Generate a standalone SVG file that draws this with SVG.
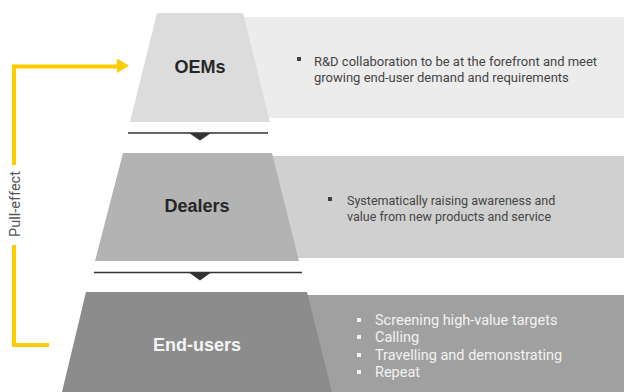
<svg xmlns="http://www.w3.org/2000/svg" width="624" height="392" viewBox="0 0 624 392">
<style>
.title{font-family:"Liberation Sans",Arial,sans-serif;font-weight:bold;font-size:18px;text-anchor:middle}
.desc{font-family:Roboto,"Liberation Sans",sans-serif;fill:#454545}
.desc2{font-family:Roboto,"Liberation Sans",sans-serif;font-size:14.5px;fill:#f2f2f2}
.sep{stroke:#333;stroke-width:1.5;fill:none}
.tri{fill:#333}
.pull{stroke:#FFCC00;stroke-width:4;fill:none}
</style>
<defs>
<marker id="ah" markerWidth="4" markerHeight="4" refX="0" refY="2" orient="auto" markerUnits="strokeWidth" viewBox="0 0 4 4">
<path d="M0,0 L3,1.8 L0,3.6 Z" fill="#FFCC00"/>
</marker>
</defs>
<rect width="624" height="392" fill="#fff"/>
<g id="oems">
<rect x="240" y="17" width="384" height="101" fill="#ececec"/>
<polygon points="157,13 243,13 270,122 130,122" fill="#dcdcdc"/>
<text class="title" x="200" y="73" fill="#262626">OEMs</text>
<rect x="297" y="57" width="4" height="4" fill="#404040"/>
<text class="desc" font-size="13" x="314" y="66">R&amp;D collaboration to be at the forefront and meet</text>
<text class="desc" font-size="13" x="314" y="82">growing end-user demand and requirements</text>
</g>
<g id="dealers">
<rect x="270" y="156" width="354" height="102" fill="#d0d0d0"/>
<polygon points="123,153 272,153 299,261 95,261" fill="#b3b3b3"/>
<text class="title" x="197" y="212" fill="#262626">Dealers</text>
<rect x="328" y="197" width="4" height="4" fill="#404040"/>
<text class="desc" font-size="12.5" x="347" y="205">Systematically raising awareness and</text>
<text class="desc" font-size="12.5" x="347" y="221">value from new products and service</text>
</g>
<g id="end-users">
<rect x="305" y="295" width="319" height="97" fill="#a0a0a0"/>
<polygon points="86,292 307,292 332,392 62,392" fill="#8c8c8c"/>
<text class="title" x="197" y="351" fill="#f5f5f5">End-users</text>
<g fill="#f2f2f2">
<rect x="357" y="318" width="4" height="4"/>
<rect x="357" y="335" width="4" height="4"/>
<rect x="357" y="353" width="4" height="4"/>
<rect x="357" y="370" width="4" height="4"/>
</g>
<text class="desc2" x="375" y="325">Screening high-value targets</text>
<text class="desc2" x="375" y="342">Calling</text>
<text class="desc2" x="375" y="360">Travelling and demonstrating</text>
<text class="desc2" x="375" y="377">Repeat</text>
</g>
<g id="connectors">
<line class="sep" x1="128" y1="133" x2="268" y2="133"/>
<polygon class="tri" points="189,133 211,133 200,140.5"/>
<line class="sep" x1="94" y1="272.5" x2="302" y2="272.5"/>
<polygon class="tri" points="189,272.5 211,272.5 200,280.5"/>
<polyline class="pull" points="14,165 14,66.5 117,66.5" marker-end="url(#ah)"/>
<polyline class="pull" points="14,245 14,345 49,345"/>
<text x="0" y="0" transform="translate(20,204) rotate(-90)" font-family="Roboto,'Liberation Sans',sans-serif" font-size="14.5" fill="#555" text-anchor="middle">Pull-effect</text>
</g>
</svg>
